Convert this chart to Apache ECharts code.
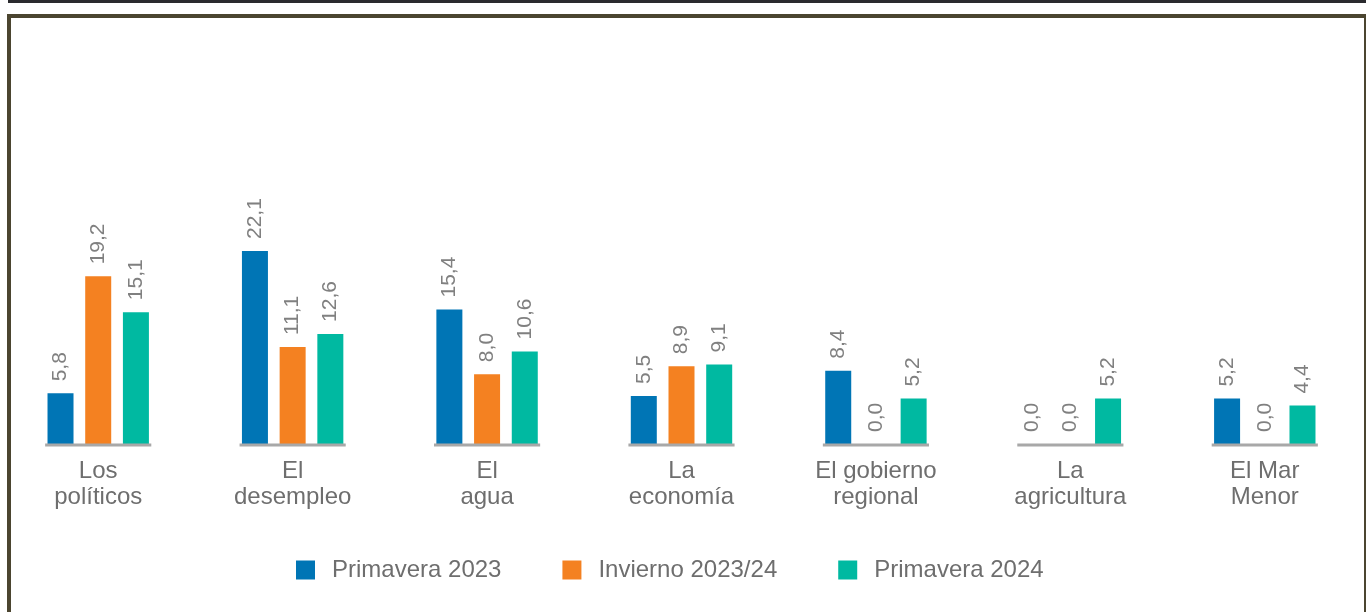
<!DOCTYPE html>
<html>
<head>
<meta charset="utf-8">
<script src="https://cdn.jsdelivr.net/npm/echarts@6/dist/echarts.min.js"></script>
<style>
html,body{margin:0;padding:0;background:#fff;}
#main{width:1366px;height:612px;}
</style>
</head>
<body>
<div id="main"></div>
<script>
var categories = ['Los\npolíticos','El\ndesempleo','El\nagua','La\neconomía','El gobierno\nregional','La\nagricultura','El Mar\nMenor'];
var seriesNames = ['Primavera 2023','Invierno 2023/24','Primavera 2024'];
var primavera2023 = [5.8, 22.1, 15.4, 5.5, 8.4, 0.0, 5.2];
var invierno2023 = [19.2, 11.1, 8.0, 8.9, 0.0, 0.0, 0.0];
var primavera2024 = [15.1, 12.6, 10.6, 9.1, 5.2, 5.2, 4.4];

var fontName = '"Liberation Sans", Arial, sans-serif',
	barW = 26, labelSize = 21, catSize = 24, legSize = 24,
	frameColor = '#4b4530', baseColor = '#a8a8a8';

function barSeries(name, data){
	return {
		name: name,
		type: 'bar',
		barWidth: barW,
		barGap: '45%',
		data: data,
		label: {
			show: true,
			position: 'top',
			distance: 12,
			rotate: 90,
			align: 'left',
			verticalAlign: 'middle',
			color: '#808080',
			fontFamily: fontName,
			fontSize: labelSize,
			formatter: function (p) {
				return p.value.toFixed(1).replace('.', ',');
			}
		}
	};
}

function initChart(){
	var myChart = echarts.init(document.getElementById('main'));
	var option = {
		animation: false,
		color: ['#0075b5', '#f48121', '#00b9a1'],
		grid: {
			left: 1,
			right: 4,
			top: 182,
			bottom: 168
		},
		legend: {
			data: seriesNames,
			left: 291,
			top: 553,
			itemWidth: 19,
			itemHeight: 19,
			itemGap: 61,
			icon: 'rect',
			textStyle: {
				color: '#6e6e6e',
				fontFamily: fontName,
				fontSize: legSize,
				padding: [0, 0, 0, 12]
			}
		},
		xAxis: [{
			type: 'category',
			data: categories,
			axisLine: {show: false},
			axisTick: {show: false},
			axisLabel: {
				margin: 14,
				color: '#6e6e6e',
				fontFamily: fontName,
				fontSize: catSize,
				lineHeight: 26
			}
		}],
		yAxis: [{
			type: 'value',
			min: 0,
			max: 30,
			show: false,
			splitLine: {show: false}
		}],
		graphic: [
			{type: 'rect', shape: {x: 8, y: 0, width: 1358, height: 3}, style: {fill: '#2a2a2e'}},
			{type: 'rect', shape: {x: 7, y: 14, width: 1359, height: 4}, style: {fill: frameColor}},
			{type: 'rect', shape: {x: 7, y: 14, width: 4, height: 598}, style: {fill: frameColor}},
			{type: 'rect', shape: {x: 1364, y: 14, width: 2, height: 598}, style: {fill: frameColor}}
		],
		series: [
			barSeries(seriesNames[0], primavera2023),
			barSeries(seriesNames[1], invierno2023),
			barSeries(seriesNames[2], primavera2024),
			{
				// base segment under each group
				name: 'base',
				type: 'custom',
				z: 5,
				silent: true,
				data: categories.map(function (c, i) { return [i, 0]; }),
				renderItem: function (params, api) {
					var pt = api.coord([api.value(0), 0]);
					var half = api.size([1, 0])[0] * 0.273;
					return {
						type: 'line',
						shape: {x1: pt[0] - half, y1: pt[1] + 1, x2: pt[0] + half, y2: pt[1] + 1},
						style: {stroke: baseColor, lineWidth: 3}
					};
				}
			}
		]
	};
	myChart.setOption(option);
}
initChart();
</script>
</body>
</html>
